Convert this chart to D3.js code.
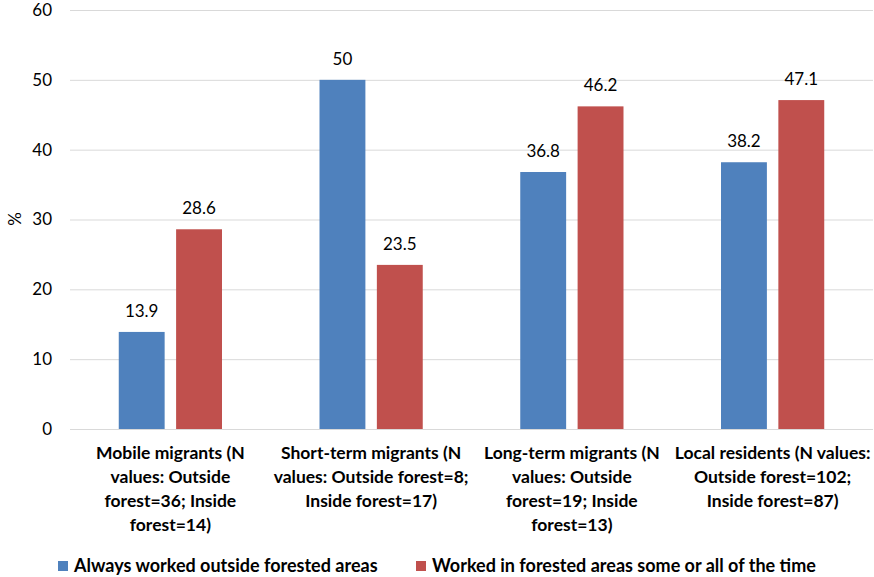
<!DOCTYPE html>
<html>
<head>
<meta charset="utf-8">
<script src="https://cdn.jsdelivr.net/npm/d3@7"></script>
<style>
  body { margin: 0; background: #fff; }
  svg text { font-family: Lato, "Open Sans", sans-serif; fill: #000; }
</style>
</head>
<body>
<svg id="chart" width="874" height="577"></svg>
<script>
// Share of workers by migrant group, split by where they worked
const categories = [
  ["Mobile migrants (N", "values: Outside", "forest=36; Inside", "forest=14)"],
  ["Short-term migrants (N", "values: Outside forest=8;", "Inside forest=17)"],
  ["Long-term migrants (N", "values: Outside", "forest=19; Inside", "forest=13)"],
  ["Local residents (N values:", "Outside forest=102;", "Inside forest=87)"]
];
const seriesNames = ["Always worked outside forested areas", "Worked in forested areas some or all of the time"];
const outsideValues = [13.9, 50, 36.8, 38.2];
const insideValues = [28.6, 23.5, 46.2, 47.1];
const yTicks = [0, 10, 20, 30, 40, 50, 60];
const colors = ["#4F81BD", "#C0504D"];

const svg = d3.select("#chart");
const plotLeft = 70, plotRight = 873, plotTop = 10, plotBottom = 429;

const x = d3.scaleBand().domain(d3.range(categories.length)).range([plotLeft, plotRight]);
const xs = d3.scaleBand().domain([0, 1]).range([0, x.bandwidth()]).paddingInner(0.2).paddingOuter(0.85);
const y = d3.scaleLinear().domain([0, 60]).range([plotBottom, plotTop]);

// gridlines and tick labels
const yAxis = d3.axisLeft(y).tickValues(yTicks).tickSize(-(plotRight - plotLeft)).tickPadding(18).tickFormat(d3.format("d"));
const gy = svg.append("g").attr("transform", `translate(${plotLeft},0)`).call(yAxis);
gy.select(".domain").remove();
gy.selectAll(".tick line").attr("stroke", "#d9d9d9").attr("stroke-width", 1);
gy.selectAll(".tick text").attr("font-size", 17).attr("fill", "#000").attr("font-family", "Lato, sans-serif");

svg.append("text")
  .attr("transform", "translate(21,219) rotate(-90)")
  .attr("text-anchor", "middle")
  .attr("font-size", 17)
  .text("%");

const series = [outsideValues, insideValues];
series.forEach((vals, si) => {
  const g = svg.append("g");
  g.selectAll("rect").data(vals).join("rect")
    .attr("x", (d, i) => x(i) + xs(si))
    .attr("y", d => y(d))
    .attr("width", xs.bandwidth())
    .attr("height", d => y(0) - y(d))
    .attr("fill", colors[si]);
  g.selectAll("text").data(vals).join("text")
    .attr("x", (d, i) => x(i) + xs(si) + xs.bandwidth() / 2)
    .attr("y", d => y(d) - 15)
    .attr("text-anchor", "middle")
    .attr("font-size", 17)
    .text(d => d);
});

// category labels
categories.forEach((lines, i) => {
  const t = svg.append("text")
    .attr("text-anchor", "middle")
    .attr("font-size", 17.5)
    .attr("font-weight", "bold");
  lines.forEach((ln, li) => {
    t.append("tspan")
      .attr("x", x(i) + x.bandwidth() / 2)
      .attr("y", 459 + li * 24)
      .text(ln);
  });
});

// legend
const legendX = [58, 416];
seriesNames.forEach((name, i) => {
  svg.append("rect").attr("x", legendX[i]).attr("y", 561).attr("width", 10).attr("height", 10).attr("fill", colors[i]);
  svg.append("text")
    .attr("x", legendX[i] + 16)
    .attr("y", 572)
    .attr("font-size", 18)
    .attr("font-weight", "bold")
    .text(name);
});
</script>
</body>
</html>
